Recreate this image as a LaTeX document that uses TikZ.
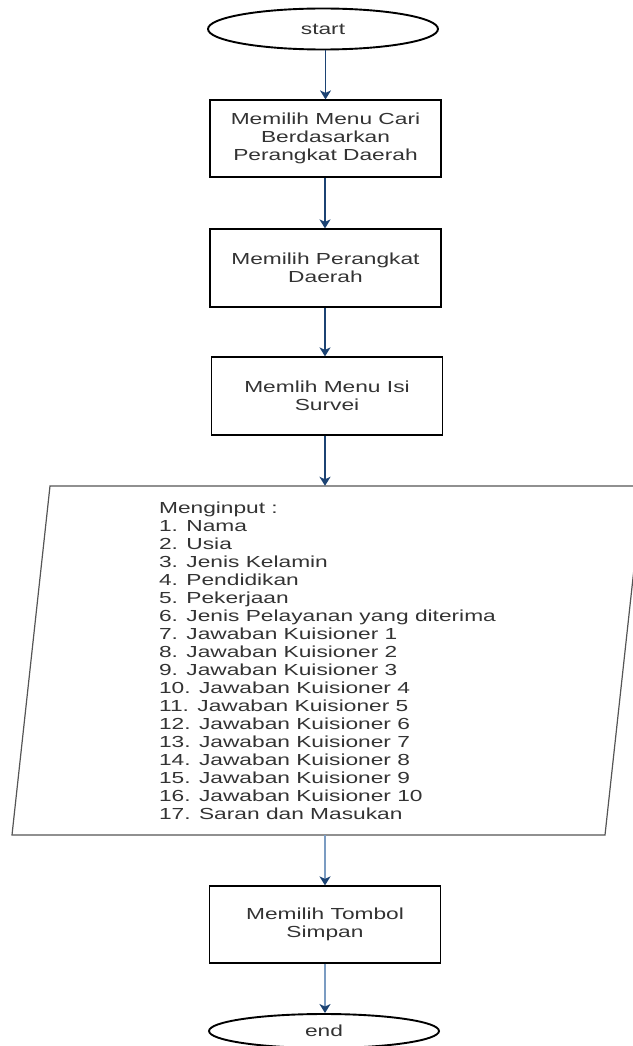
\documentclass[tikz,border=0pt]{standalone}
\usepackage{fontspec}
\setmainfont{Liberation Sans}[FakeStretch=1.42]
\usetikzlibrary{arrows.meta,shapes.geometric}
\definecolor{navy}{HTML}{1C4373}
\definecolor{steel}{HTML}{7B9CC2}
\definecolor{txt}{HTML}{333333}
\definecolor{pborder}{HTML}{555555}
\begin{document}
\begin{tikzpicture}[x=1pt,y=-1pt,
  every node/.style={font=\fontsize{16}{18}\selectfont, text=txt},
  term/.style={ellipse, draw=black, line width=1.9pt, minimum width=230pt, minimum height=41pt, inner sep=0pt},
  procbox/.style={rectangle, draw=black, line width=1.2pt, minimum width=231pt, minimum height=77pt, align=center, inner sep=0pt},
  flow/.style={draw=navy, line width=1.5pt, -{Stealth[length=9pt,width=11pt,inset=2.5pt]}},
  flowlight/.style={draw=steel, line width=2.6pt, -{Stealth[length=9pt,width=11pt,inset=2.5pt,fill=navy,color=navy]}}
]
\useasboundingbox (0,0) rectangle (632,1046);
\node[term] (start) at (323,29) {start};
\node[procbox] (b1) at (325.5,138.5) {Memilih Menu Cari\\Berdasarkan\\Perangkat Daerah};
\node[procbox, minimum height=78pt] (b2) at (325.5,268) {Memilih Perangkat\\Daerah};
\node[procbox, minimum height=78pt] (b3) at (327,396) {Memlih Menu Isi\\Survei};
\coordinate (p1) at (50,486);
\coordinate (p2) at (643,486);
\coordinate (p3) at (605,835);
\coordinate (p4) at (12,835);
\draw[draw=pborder, line width=1.2pt] (p1) -- (p2) -- (p3) -- (p4) -- cycle;
\node[minimum width=593pt, minimum height=349pt, inner sep=0pt, align=left] (io) at (327.5,660.5) {Menginput :\\1. Nama\\2. Usia\\3. Jenis Kelamin\\4. Pendidikan\\5. Pekerjaan\\6. Jenis Pelayanan yang diterima\\7. Jawaban Kuisioner 1\\8. Jawaban Kuisioner 2\\9. Jawaban Kuisioner 3\\10. Jawaban Kuisioner 4\\11. Jawaban Kuisioner 5\\12. Jawaban Kuisioner 6\\13. Jawaban Kuisioner 7\\14. Jawaban Kuisioner 8\\15. Jawaban Kuisioner 9\\16. Jawaban Kuisioner 10\\17. Saran dan Masukan};
\node[procbox] (b4) at (325,924.5) {Memilih Tombol\\Simpan};
\node[term, minimum height=34pt] (end) at (324,1031) {end};
\draw[flow] (start.south -| b1.north) -- (b1.north);
\draw[flow] (b1.south -| 325,0) -- (b2.north -| 325,0);
\draw[flow] (b2.south -| 325,0) -- (b3.north -| 325,0);
\draw[flow] (b3.south -| 325,0) -- (io.north -| 325,0);
\draw[flowlight] (io.south -| 325,0) -- (b4.north -| 325,0);
\draw[flowlight] (b4.south -| 325,0) -- (end.north -| 325,0);
\end{tikzpicture}
\end{document}
